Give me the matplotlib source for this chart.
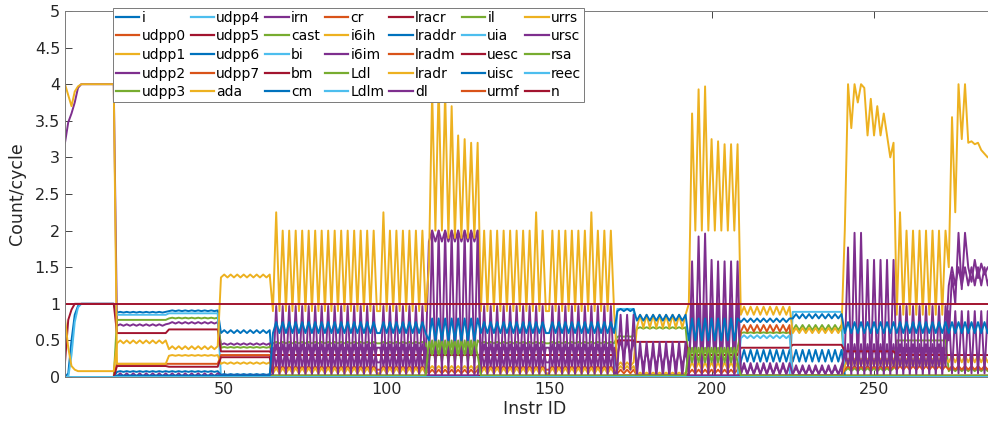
"""
Per-instruction event rates (count/cycle) for 35 counters.
"""

import numpy as np
import matplotlib

matplotlib.use("Agg")
import matplotlib.pyplot as plt
from matplotlib.ticker import FuncFormatter

NAMES = [
    "i", "udpp0", "udpp1", "udpp2", "udpp3",
    "udpp4", "udpp5", "udpp6", "udpp7", "ada",
    "irn", "cast", "bi", "bm", "cm",
    "cr", "i6ih", "i6im", "Ldl", "Ldlm",
    "lracr", "lraddr", "lradm", "lradr", "dl",
    "il", "uia", "uesc", "uisc", "urmf",
    "urrs", "ursc", "rsa", "reec", "n",
]
# MATLAB default colour order, repeated
COLORS = ["#0072BD", "#D95319", "#EDB120", "#7E2F8E", "#77AC30", "#4DBEEE", "#A2142F"]

# instruction blocks: A, B1, B2, C, D1, D2, D3, E, F1, F2, R, G, H, I, J, K, L, M
SEG_START = [1, 17, 33, 49, 65, 81, 98, 113, 129, 150, 171, 177, 193, 209, 225, 241, 257, 273]
LAST_ID = 292

# per-block low / high levels (values alternate between them inside a block)
I6IH_LO = [0.08, 0.46, 0.38, 1.36, 0.9, 0.9, 0.9, 1.9, 0.9, 0.9, 0.15, 0.67, 2.0, 0.85, 0.60, 3.2, 0.85, 2.95]
I6IH_HI = [0.08, 0.50, 0.42, 1.40, 2.0, 2.0, 2.0, 3.2, 2.0, 2.0, 0.20, 0.85, 3.2, 0.96, 0.67, 3.6, 2.0, 3.05]
I6IM_LO = [0.0, 0.01, 0.01, 0.02, 0.02, 0.02, 0.02, 0.02, 0.02, 0.02, 0.10, 0.0, 0.0, 0.03, 0.03, 0.0, 0.02, 1.3]
I6IM_HI = [0.0, 0.05, 0.05, 0.02, 0.97, 0.97, 0.97, 2.0, 0.97, 0.97, 0.85, 0.48, 1.6, 0.19, 0.16, 1.6, 0.97, 1.5]
UDPP2_LO = [4.0, 0.70, 0.73, 0.44, 0.20, 0.20, 0.20, 1.85, 0.20, 0.20, 0.30, 0.15, 0.05, 0.05, 0.05, 0.15, 0.10, 1.25]
UDPP2_HI = [4.0, 0.72, 0.75, 0.46, 0.45, 0.45, 0.45, 2.0, 0.45, 0.45, 0.50, 0.35, 1.0, 0.15, 0.12, 0.45, 0.45, 1.5]
ADA_LO = [4.0, 0.18, 0.29, 0.18, 0.05, 0.05, 0.05, 0.10, 0.05, 0.05, 0.10, 0.03, 0.10, 0.01, 0.02, 0.15, 0.15, 0.20]
ADA_HI = [4.0, 0.18, 0.30, 0.20, 0.12, 0.12, 0.12, 0.15, 0.12, 0.12, 0.15, 0.06, 0.20, 0.02, 0.02, 0.25, 0.25, 0.30]
I_LO = [1.0, 0.88, 0.90, 0.60, 0.01, 0.01, 0.01, 0.01, 0.01, 0.01, 0.01, 0.01, 0.01, 0.01, 0.01, 0.01, 0.01, 0.01]
I_HI = [1.0, 0.89, 0.91, 0.64, 0.01, 0.01, 0.01, 0.01, 0.01, 0.01, 0.01, 0.01, 0.01, 0.01, 0.01, 0.01, 0.01, 0.01]
UDPP3_LO = [0.0, 0.78, 0.80, 0.40, 0.46, 0.46, 0.46, 0.20, 0.46, 0.46, 0.55, 0.66, 0.20, 0.60, 0.64, 0.08, 0.50, 0.08]
UDPP3_HI = [0.0, 0.78, 0.81, 0.41, 0.48, 0.48, 0.48, 0.50, 0.48, 0.48, 0.56, 0.68, 0.40, 0.61, 0.71, 0.12, 0.50, 0.12]
UDPP4_LV = [1.0, 0.85, 0.87, 0.0, 0.0, 0.0, 0.0, 0.0, 0.0, 0.0, 0.93, 0.0, 0.0, 0.0, 0.89, 0.0, 0.0, 0.0]
UDPP5_LV = [1.0, 0.60, 0.65, 0.35, 0.30, 0.30, 0.30, 0.30, 0.30, 0.30, 0.50, 0.48, 0.30, 0.40, 0.44, 0.35, 0.30, 0.30]
UDPP6_LO = [0.0, 0.07, 0.07, 0.03, 0.01, 0.01, 0.01, 0.01, 0.01, 0.01, 0.01, 0.01, 0.01, 0.21, 0.21, 0.01, 0.01, 0.01]
UDPP6_HI = [0.0, 0.08, 0.08, 0.04, 0.01, 0.01, 0.01, 0.01, 0.01, 0.01, 0.01, 0.01, 0.01, 0.37, 0.37, 0.01, 0.01, 0.01]
UDPP7_LO = [0.0, 0.18, 0.18, 0.30, 0.10, 0.10, 0.10, 0.05, 0.10, 0.10, 0.05, 0.02, 0.05, 0.62, 0.02, 0.10, 0.10, 0.10]
UDPP7_HI = [0.0, 0.18, 0.18, 0.30, 0.15, 0.15, 0.15, 0.10, 0.15, 0.15, 0.10, 0.02, 0.10, 0.71, 0.02, 0.15, 0.15, 0.15]
BM_LV = [0.0, 0.15, 0.14, 0.27, 0.02, 0.02, 0.02, 0.02, 0.02, 0.02, 0.02, 0.02, 0.02, 0.02, 0.02, 0.02, 0.02, 0.02]
BI_LO = [0.0, 0.0, 0.0, 0.0, 0.0, 0.0, 0.0, 0.0, 0.0, 0.0, 0.0, 0.0, 0.0, 0.53, 0.0, 0.0, 0.0, 0.0]
BI_HI = [0.0, 0.0, 0.0, 0.0, 0.0, 0.0, 0.0, 0.0, 0.0, 0.0, 0.0, 0.0, 0.0, 0.57, 0.0, 0.0, 0.0, 0.0]
UISC_LO = [0.0, 0.02, 0.02, 0.02, 0.60, 0.60, 0.60, 0.50, 0.60, 0.60, 0.90, 0.77, 0.50, 0.75, 0.80, 0.60, 0.60, 0.60]
UISC_HI = [0.0, 0.02, 0.02, 0.02, 0.75, 0.75, 0.75, 0.80, 0.75, 0.75, 0.93, 0.85, 0.80, 0.80, 0.86, 0.75, 0.75, 0.75]
DL_LO = [0.0, 0.01, 0.01, 0.01, 0.40, 0.40, 0.40, 0.02, 0.40, 0.40, 0.02, 0.02, 0.02, 0.02, 0.02, 0.40, 0.40, 0.90]
DL_HI = [0.0, 0.01, 0.01, 0.01, 0.15, 0.15, 0.15, 0.02, 0.15, 0.15, 0.02, 0.02, 0.02, 0.02, 0.02, 0.15, 0.15, 0.05]
IL_LO = [0.0, 0.0, 0.0, 0.0, 0.02, 0.02, 0.02, 0.50, 0.02, 0.02, 0.02, 0.02, 0.40, 0.02, 0.02, 0.02, 0.02, 0.02]
IL_HI = [0.0, 0.0, 0.0, 0.0, 0.02, 0.02, 0.02, 0.30, 0.02, 0.02, 0.02, 0.02, 0.20, 0.02, 0.02, 0.02, 0.02, 0.02]

# irregular stretches read point by point
RAMP_I = [0.0, 0.05, 0.5, 0.85, 0.97]
RAMP_UDPP4 = [0.0, 0.0, 0.3, 0.75, 0.95]
RAMP_UDPP5 = [0.2, 0.78, 0.92]
RAMP_UDPP2 = [3.2, 3.48, 3.6, 3.75, 3.95]
RAMP_ADA = [4.0, 3.85, 3.7, 3.9, 3.97]
RAMP_I6IH = [0.8, 0.4, 0.15, 0.1]
E_YELLOW = [1.5, 3.9, 2.0, 4.0, 2.0, 3.9, 1.9, 3.7, 1.9, 3.3, 1.9, 3.25, 1.9, 3.2, 1.9, 3.2]
H_YELLOW = [1.0, 3.6, 2.0, 3.93, 2.0, 3.97, 2.0, 3.25, 2.0, 3.22, 2.0, 3.18, 2.0, 3.18, 2.0, 3.18]
K_YELLOW = [2.0, 4.0, 3.4, 4.0, 3.75, 4.0, 3.95, 3.3, 3.8, 3.3, 3.7, 3.3, 3.6, 3.3, 3.0, 3.2]
M_YELLOW = [1.5, 3.55, 2.25, 4.0, 3.25, 4.0, 3.2, 3.22, 3.18, 3.2, 3.1, 3.05, 3.0]
H_PURPLE = [0.0, 1.58, 0.0, 1.92, 0.0, 1.96, 0.0, 1.6, 0.0, 1.58, 0.0, 1.58, 0.0, 1.58, 0.0, 1.58]
K_PURPLE = [0.3, 1.77, 0.0, 1.97, 0.0, 1.97, 0.0, 1.6, 0.0, 1.6, 0.0, 1.6, 0.0, 1.6, 0.0, 1.6]
M_PURPLE = [0.5, 1.4, 1.0, 1.97, 1.2, 1.97, 1.5, 1.3, 1.6, 1.35, 1.55, 1.4, 1.5]
TALL_PEAK_IDS = [66, 99, 146, 163, 258]
TALL_PEAK = 2.25


def build(lo, hi=None, runs=()):
    """Expand per-block levels to one value per instruction id."""
    hi = lo if hi is None else hi
    edges = SEG_START + [LAST_ID + 1]
    vals = np.zeros(LAST_ID)
    for k in range(len(SEG_START)):
        for x in range(edges[k], edges[k + 1]):
            vals[x - 1] = hi[k] if (x - edges[k]) % 2 else lo[k]
    for start, seq in runs:
        vals[start - 1:start - 1 + len(seq)] = seq
    return vals


ids = np.arange(1, LAST_ID + 1)
zero = [0.0] * len(SEG_START)
series = {name: build(zero) for name in NAMES}

series["i"] = build(I_LO, I_HI, [(1, RAMP_I)])
series["udpp2"] = build(UDPP2_LO, UDPP2_HI, [(1, RAMP_UDPP2)])
series["udpp3"] = build(UDPP3_LO, UDPP3_HI)
series["udpp4"] = build(UDPP4_LV, runs=[(1, RAMP_UDPP4)])
series["udpp5"] = build(UDPP5_LV, runs=[(1, RAMP_UDPP5)])
series["udpp6"] = build(UDPP6_LO, UDPP6_HI)
series["udpp7"] = build(UDPP7_LO, UDPP7_HI)
series["ada"] = build(ADA_LO, ADA_HI, [(1, RAMP_ADA)])
series["bi"] = build(BI_LO, BI_HI)
series["bm"] = build(BM_LV)
series["i6ih"] = build(
    I6IH_LO, I6IH_HI,
    [(1, RAMP_I6IH), (113, E_YELLOW), (193, H_YELLOW), (241, K_YELLOW), (273, M_YELLOW)]
    + [(x, [TALL_PEAK]) for x in TALL_PEAK_IDS],
)
series["i6im"] = build(I6IM_LO, I6IM_HI, [(193, H_PURPLE), (241, K_PURPLE), (273, M_PURPLE)])
series["dl"] = build(DL_LO, DL_HI)
series["il"] = build(IL_LO, IL_HI)
series["uisc"] = build(UISC_LO, UISC_HI)
series["n"] = build([1.0] * len(SEG_START))

plt.rcParams["font.family"] = ["DejaVu Sans"]
fig = plt.figure(figsize=(9.88, 4.23), dpi=100)
# axes run past the right edge of the canvas (picture is cropped there)
ax = fig.add_axes([65 / 988, 46 / 423, 939 / 988, 366 / 423])

for k, name in enumerate(NAMES):
    ax.plot(ids, series[name], color=COLORS[k % 7], lw=1.4, label=name)

ax.set_xlim(1, 290)
ax.set_ylim(0, 5)
ax.set_xticks([50, 100, 150, 200, 250])
ax.set_yticks(np.arange(0, 5.01, 0.5))
ax.yaxis.set_major_formatter(FuncFormatter(lambda v, p: f"{v:g}"))
ax.tick_params(direction="in", length=5, width=0.6, colors="#262626",
               labelsize=11.5, top=True, right=True)
for sp in ax.spines.values():
    sp.set_color("#7a7a7a")
    sp.set_linewidth(0.7)
ax.set_xlabel("Instr ID", fontsize=12.5, color="#262626", labelpad=2)
ax.set_ylabel("Count/cycle", fontsize=12.5, color="#262626", labelpad=6)

leg = ax.legend(
    ncol=7, loc="upper left", bbox_to_anchor=(113 / 988, 1 - 8 / 423),
    bbox_transform=fig.transFigure, fontsize=10, frameon=True, fancybox=False,
    framealpha=1, edgecolor="#7a7a7a", borderaxespad=0, borderpad=0.2,
    labelspacing=0.33, handlelength=1.7, handletextpad=0.15, columnspacing=0.35,
)
leg.get_frame().set_linewidth(0.7)
for line in leg.get_lines():
    line.set_linewidth(1.6)

fig.savefig("out.png", dpi=100)
